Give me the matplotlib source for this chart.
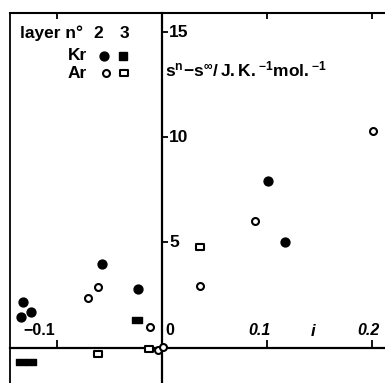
import matplotlib
matplotlib.use("Agg")
import matplotlib.pyplot as plt
from matplotlib.path import Path
from matplotlib.lines import Line2D

plt.rcParams['font.family'] = ['Liberation Sans', 'DejaVu Sans']
plt.rcParams['font.weight'] = 'bold'
plt.rcParams['mathtext.fontset'] = 'custom'
plt.rcParams['mathtext.rm'] = 'Liberation Sans:bold'
plt.rcParams['mathtext.bf'] = 'Liberation Sans:bold'
plt.rcParams['mathtext.it'] = 'Liberation Sans:bold:italic'

# ---- data (i, s^n - s^inf) ----
kr2_x = [-0.1325, -0.1246, -0.1342, -0.0571, -0.0226, 0.1006, 0.1173]
kr2_y = [2.16, 1.71, 1.44, 3.98, 2.79, 7.92, 5.04]
ar2_x = [-0.0707, -0.0606, -0.0114, 0.0362, 0.0882, 0.2005, -0.0041, 0.0010]
ar2_y = [2.35, 2.90, 1.00, 2.93, 6.04, 10.31, -0.11, 0.03]
kr3_x = [-0.0241, -0.1342, -0.1246]
kr3_y = [1.32, -0.67, -0.67]
ar3_x = [-0.0606, -0.0124, 0.0362]
ar3_y = [-0.30, -0.08, 4.79]

xtick_vals = [-0.1, 0.0, 0.1, 0.2]
xtick_labels = ['\u22120.1', '0', '0.1', '0.2']
ytick_vals = [5, 10, 15]
ytick_labels = ['5', '10', '15']

W, H = 385, 383
fig = plt.figure(figsize=(W / 100, H / 100), dpi=100)
pos = [10 / W, 0, 375 / W, (383 - 13.3) / H]
xlim = (-0.1446, 0.2122)
ylim = (-1.678, 15.89)

# frame axes (left + top border)
axf = fig.add_axes(pos, zorder=0)
axf.set_xlim(*xlim)
axf.set_ylim(*ylim)
for s in ['right', 'bottom']:
    axf.spines[s].set_visible(False)
axf.spines['left'].set_linewidth(1.3)
axf.spines['top'].set_linewidth(1.5)
axf.set_yticks([])
axf.xaxis.set_ticks_position('top')
axf.set_xticks([-0.1, 0.1, 0.2])
axf.tick_params(axis='x', direction='in', length=4, width=1.3, labeltop=False, labelbottom=False)

# main axes with zero-crossing axes
ax = fig.add_axes(pos, zorder=1)
ax.patch.set_alpha(0)
ax.set_xlim(*xlim)
ax.set_ylim(*ylim)
ax.spines['left'].set_position(('data', 0))
ax.spines['bottom'].set_position(('data', 0))
ax.spines['top'].set_visible(False)
ax.spines['right'].set_visible(False)
ax.spines['left'].set_linewidth(1.6)
ax.spines['bottom'].set_linewidth(1.6)
ax.set_xticks([-0.1, 0.1, 0.2])
ax.set_yticks(ytick_vals)
ax.tick_params(axis='x', direction='in', length=6, width=1.3, labelbottom=False)
ax.tick_params(axis='y', direction='in', length=4.5, width=1.3, labelleft=False)

# data markers
rect = Path([(-1, -0.7), (1, -0.7), (1, 0.7), (-1, 0.7), (-1, -0.7)],
            [Path.MOVETO, Path.LINETO, Path.LINETO, Path.LINETO, Path.CLOSEPOLY])
kr2_style = dict(ls='none', marker='o', ms=6.4, color='black', mec='black')
ar2_style = dict(ls='none', marker='o', ms=5.0, mfc='white', mec='black', mew=1.5)
kr3_style = dict(ls='none', marker=rect, ms=6.8, color='black')
ar3_style = dict(ls='none', marker=rect, ms=5.8, mfc='white', mec='black', mew=1.5)
ax.plot(kr2_x, kr2_y, clip_on=False, zorder=3, **kr2_style)
ax.plot(ar2_x, ar2_y, clip_on=False, zorder=3, **ar2_style)
ax.plot(kr3_x, kr3_y, clip_on=False, zorder=3, **kr3_style)
ax.plot(ar3_x, ar3_y, clip_on=False, zorder=3, **ar3_style)

# tick labels
xlab_off = [-0.002, 0.003, 0.0035, 0.0075]
for v, lab, off in zip(xtick_vals, xtick_labels, xlab_off):
    if v == 0:
        ax.text(off, 0.8, lab, ha='left', va='center', fontsize=11.5, fontweight='bold')
    else:
        ax.text(v + off, 0.8, lab, ha='right', va='center', fontsize=11.5,
                fontweight='bold', style='italic' if v > 0 else 'normal')
for v, lab in zip(ytick_vals, ytick_labels):
    ax.text(0.0068, v, lab, ha='left', va='center', fontsize=12.5, fontweight='bold')

# axis labels
ax.text(0.1437, 0.75, 'i', ha='center', va='center', fontsize=12, fontweight='bold', style='italic')
ax.text(0.003, 13.23, r'$\mathbf{s^{n}\!-\!s^{\infty}/\,J.K.^{-1}mol.^{-1}}$',
        ha='left', va='center', fontsize=12.5)

# legend-like table (figure pixel coordinates)
def fx(px):
    return px / W
def fy(py):
    return 1 - py / H

fs = 12.5
fig.text(fx(20), fy(33), 'layer n\u00b0', ha='left', va='center', fontsize=fs, fontweight='bold')
fig.text(fx(98), fy(33), '2', ha='center', va='center', fontsize=fs, fontweight='bold')
fig.text(fx(124), fy(33), '3', ha='center', va='center', fontsize=fs, fontweight='bold')
fig.text(fx(87), fy(56), 'Kr', ha='right', va='center', fontsize=fs, fontweight='bold')
fig.text(fx(87), fy(73), 'Ar', ha='right', va='center', fontsize=fs, fontweight='bold')
kr3_key = dict(kr3_style, marker='s', ms=5.2)
for (px, py), st in [((104, 56), kr2_style), ((123, 56), kr3_key),
                     ((106, 73), ar2_style), ((124, 73), ar3_style)]:
    fig.add_artist(Line2D([fx(px)], [fy(py)], transform=fig.transFigure, **st))

fig.savefig('out.png', dpi=100)
